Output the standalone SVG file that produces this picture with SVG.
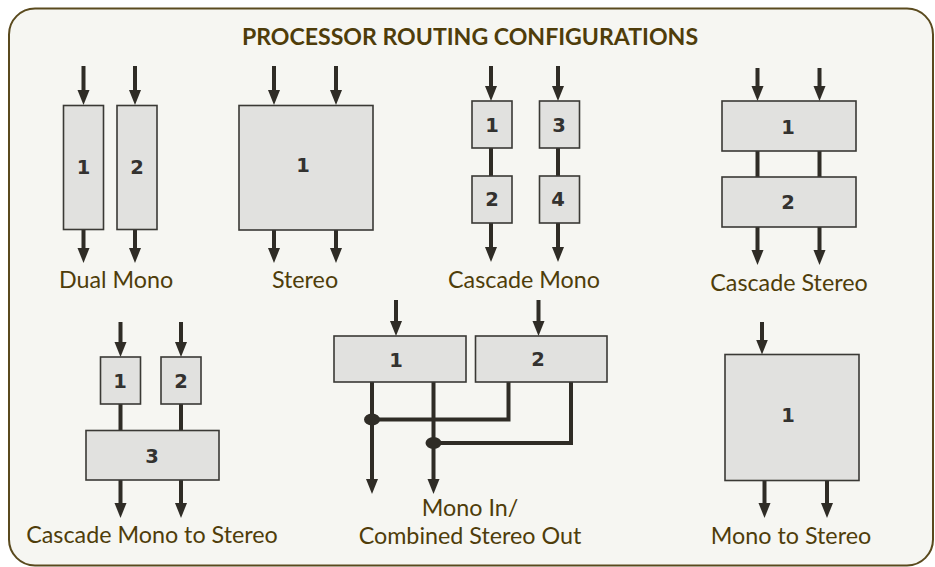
<svg xmlns="http://www.w3.org/2000/svg" width="935" height="567" viewBox="0 0 935 567">
<defs>
<marker id="ah" markerUnits="userSpaceOnUse" markerWidth="16" markerHeight="14" viewBox="-1 -7 16 14" refX="0" refY="0" orient="auto">
<path d="M-1,-6 L14,0 L-1,6 z" fill="#2f2c26"/>
</marker>
<style>
.bx{fill:#e1e1df;stroke:#3a3935;stroke-width:1.6}
.ln{stroke:#2f2c26;stroke-width:4;fill:none}
.ar{stroke:#2f2c26;stroke-width:4;fill:none;marker-end:url(#ah)}
.num{font-family:"DejaVu Sans",sans-serif;font-weight:bold;font-size:19.5px;fill:#333230;text-anchor:middle;dominant-baseline:central}
.lbl{font-family:Lato,"Liberation Sans",sans-serif;font-size:23.3px;fill:#4f3d0a;text-anchor:middle}
.ttl{font-family:Lato,"Liberation Sans",sans-serif;font-weight:bold;font-size:23.1px;fill:#4f3d0a;text-anchor:middle}
</style>
</defs>
<rect x="0" y="0" width="935" height="567" fill="#ffffff"/>
<rect x="9" y="8.5" width="924" height="557" rx="26" ry="26" fill="#f6f6f2" stroke="#5a4a1e" stroke-width="2"/>
<text class="ttl" x="470" y="45">PROCESSOR ROUTING CONFIGURATIONS</text>

<g id="connectors">
<!-- Dual Mono -->
<line class="ar" x1="83.5" y1="66" x2="83.5" y2="91"/>
<line class="ar" x1="135" y1="66" x2="135" y2="91"/>
<line class="ar" x1="83.5" y1="229" x2="83.5" y2="249"/>
<line class="ar" x1="135" y1="229" x2="135" y2="249"/>
<!-- Stereo -->
<line class="ar" x1="274" y1="66" x2="274" y2="91"/>
<line class="ar" x1="336" y1="66" x2="336" y2="91"/>
<line class="ar" x1="274" y1="230" x2="274" y2="249"/>
<line class="ar" x1="336" y1="230" x2="336" y2="249"/>
<!-- Cascade Mono -->
<line class="ar" x1="491" y1="66" x2="491" y2="87"/>
<line class="ar" x1="558" y1="66" x2="558" y2="87"/>
<line class="ln" x1="491" y1="148" x2="491" y2="176"/>
<line class="ln" x1="558" y1="148" x2="558" y2="176"/>
<line class="ar" x1="491" y1="223" x2="491" y2="248"/>
<line class="ar" x1="558" y1="223" x2="558" y2="248"/>
<!-- Cascade Stereo -->
<line class="ar" x1="757.5" y1="68" x2="757.5" y2="87"/>
<line class="ar" x1="819.5" y1="68" x2="819.5" y2="87"/>
<line class="ln" x1="757.5" y1="151" x2="757.5" y2="177"/>
<line class="ln" x1="819.5" y1="151" x2="819.5" y2="177"/>
<line class="ar" x1="757.5" y1="227" x2="757.5" y2="251"/>
<line class="ar" x1="819.5" y1="227" x2="819.5" y2="251"/>
<!-- Cascade Mono to Stereo -->
<line class="ar" x1="120.5" y1="322" x2="120.5" y2="343"/>
<line class="ar" x1="181" y1="322" x2="181" y2="343"/>
<line class="ln" x1="120.5" y1="404" x2="120.5" y2="430"/>
<line class="ln" x1="181" y1="404" x2="181" y2="430"/>
<line class="ar" x1="120.5" y1="480" x2="120.5" y2="504"/>
<line class="ar" x1="181" y1="480" x2="181" y2="504"/>
<!-- Mono In / Combined Stereo Out -->
<line class="ar" x1="396" y1="300" x2="396" y2="322"/>
<line class="ar" x1="538.5" y1="300" x2="538.5" y2="322"/>
<line class="ar" x1="372" y1="382" x2="372" y2="480"/>
<line class="ar" x1="433.5" y1="382" x2="433.5" y2="480"/>
<path class="ln" d="M508.5,382 V419.5 H372"/>
<path class="ln" d="M571,382 V443 H433.5"/>
<ellipse cx="372" cy="419.5" rx="8" ry="6" fill="#2f2c26"/>
<ellipse cx="433.5" cy="443" rx="8" ry="6" fill="#2f2c26"/>
<!-- Mono to Stereo -->
<line class="ar" x1="762" y1="322" x2="762" y2="340.5"/>
<line class="ar" x1="764.5" y1="480.5" x2="764.5" y2="504"/>
<line class="ar" x1="827" y1="480.5" x2="827" y2="504"/>
</g>

<g id="dual-mono">
<rect class="bx" x="63.5" y="105.5" width="40" height="124"/>
<text class="num" x="83.5" y="167">1</text>
<rect class="bx" x="117" y="105.5" width="40" height="124"/>
<text class="num" x="137" y="167">2</text>
<text class="lbl" x="116" y="288">Dual Mono</text>
</g>

<g id="stereo">
<rect class="bx" x="239" y="105.5" width="134" height="124.5"/>
<text class="num" x="303" y="165">1</text>
<text class="lbl" x="305" y="288">Stereo</text>
</g>

<g id="cascade-mono">
<rect class="bx" x="472" y="101" width="40" height="47"/>
<text class="num" x="492" y="125">1</text>
<rect class="bx" x="539.5" y="101" width="40" height="47"/>
<text class="num" x="559" y="125">3</text>
<rect class="bx" x="472" y="176" width="40" height="47"/>
<text class="num" x="492" y="199">2</text>
<rect class="bx" x="539.5" y="176" width="40" height="47"/>
<text class="num" x="558" y="199">4</text>
<text class="lbl" x="524" y="288">Cascade Mono</text>
</g>

<g id="cascade-stereo">
<rect class="bx" x="722" y="101" width="134" height="50"/>
<text class="num" x="788" y="127">1</text>
<rect class="bx" x="722" y="177" width="134" height="50"/>
<text class="num" x="788" y="202">2</text>
<text class="lbl" x="789" y="291">Cascade Stereo</text>
</g>

<g id="cascade-mono-to-stereo">
<rect class="bx" x="100.5" y="357" width="40" height="47"/>
<text class="num" x="120" y="381">1</text>
<rect class="bx" x="161" y="357" width="40" height="47"/>
<text class="num" x="181" y="381">2</text>
<rect class="bx" x="86" y="430.5" width="133" height="49.5"/>
<text class="num" x="152" y="456">3</text>
<text class="lbl" x="152" y="543">Cascade Mono to Stereo</text>
</g>

<g id="mono-in-combined">
<rect class="bx" x="334" y="336" width="132" height="46"/>
<text class="num" x="396" y="360">1</text>
<rect class="bx" x="475.5" y="336" width="131.5" height="46"/>
<text class="num" x="538" y="359">2</text>
<text class="lbl" x="470" y="516">Mono In/</text>
<text class="lbl" x="470" y="544">Combined Stereo Out</text>
</g>

<g id="mono-to-stereo">
<rect class="bx" x="725" y="354.5" width="134" height="126"/>
<text class="num" x="788" y="415">1</text>
<text class="lbl" x="791" y="544">Mono to Stereo</text>
</g>
</svg>
